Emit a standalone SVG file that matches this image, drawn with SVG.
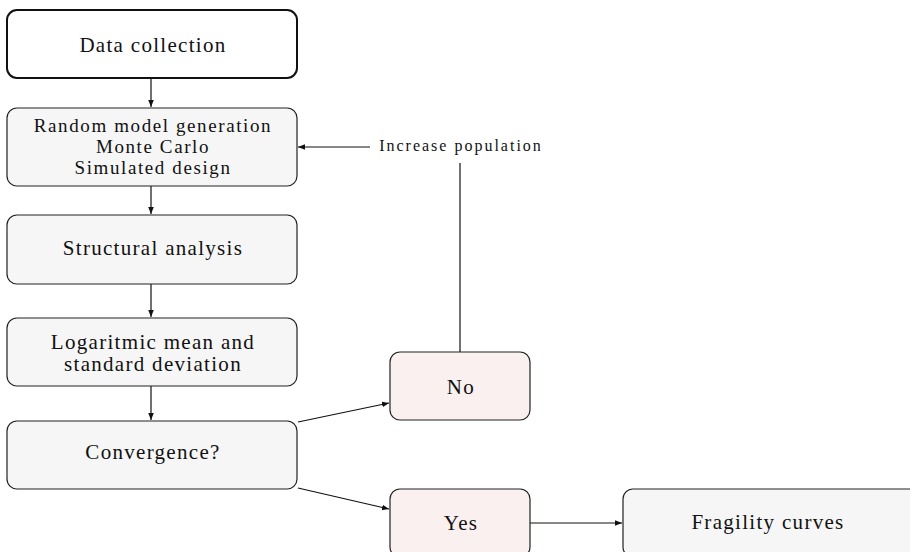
<svg xmlns="http://www.w3.org/2000/svg" width="910" height="552" viewBox="0 0 910 552">
<style>
.box{fill:#f6f6f6;stroke:#222;stroke-width:1.2}
.pink{fill:#f9f0ef;stroke:#222;stroke-width:1.2}
.t{font-family:"Liberation Serif","Times New Roman",serif;font-size:21px;fill:#111;text-anchor:middle;letter-spacing:1.3px}
.m{font-size:19px;letter-spacing:1.6px}
.s{font-family:"Liberation Serif","Times New Roman",serif;font-size:16px;fill:#111;text-anchor:middle;letter-spacing:2px}
.c{stroke:#111;stroke-width:1.2;fill:none}
</style>
<defs>
<marker id="a" viewBox="0 0 10 10" refX="10" refY="5" markerWidth="7" markerHeight="7" markerUnits="userSpaceOnUse" orient="auto">
<path d="M0,1 L10,5 L0,9 z" fill="#111"/>
</marker>
</defs>
<g id="connectors">
<line class="c" x1="151" y1="78" x2="151" y2="107" marker-end="url(#a)"/>
<line class="c" x1="151" y1="186" x2="151" y2="214" marker-end="url(#a)"/>
<line class="c" x1="151" y1="284" x2="151" y2="317" marker-end="url(#a)"/>
<line class="c" x1="151" y1="386" x2="151" y2="420" marker-end="url(#a)"/>
<line class="c" x1="298" y1="422" x2="389" y2="403" marker-end="url(#a)"/>
<line class="c" x1="298" y1="488" x2="389" y2="509" marker-end="url(#a)"/>
<line class="c" x1="530" y1="523" x2="622" y2="523" marker-end="url(#a)"/>
<line class="c" x1="370" y1="147" x2="298" y2="147" marker-end="url(#a)"/>
<line class="c" x1="460" y1="163" x2="460" y2="352"/>
<text class="s" x="461" y="151">Increase population</text>
</g>
<g id="data">
<rect x="7" y="10" width="290" height="68" rx="10" fill="#fff" stroke="#111" stroke-width="2"/>
<text class="t" x="153" y="52">Data collection</text>
</g>
<g id="random">
<rect class="box" x="7" y="108" width="290" height="78" rx="10"/>
<text class="t m" x="153" y="132">Random model generation</text>
<text class="t m" x="153" y="153">Monte Carlo</text>
<text class="t m" x="153" y="174">Simulated design</text>
</g>
<g id="structural">
<rect class="box" x="7" y="215" width="290" height="69" rx="10"/>
<text class="t" x="153" y="255">Structural analysis</text>
</g>
<g id="logmean">
<rect class="box" x="7" y="318" width="290" height="68" rx="10"/>
<text class="t" x="153" y="349">Logaritmic mean and</text>
<text class="t" x="153" y="371">standard deviation</text>
</g>
<g id="convergence">
<rect class="box" x="7" y="421" width="290" height="68" rx="10"/>
<text class="t" x="153" y="459">Convergence?</text>
</g>
<g id="no">
<rect class="pink" x="390" y="352" width="140" height="68" rx="10"/>
<text class="t" x="461" y="394">No</text>
</g>
<g id="yes">
<rect class="pink" x="390" y="489" width="140" height="68" rx="10"/>
<text class="t" x="461" y="530">Yes</text>
</g>
<g id="fragility">
<rect class="box" x="623" y="489" width="300" height="68" rx="10"/>
<text class="t" x="768" y="529">Fragility curves</text>
</g>
</svg>
